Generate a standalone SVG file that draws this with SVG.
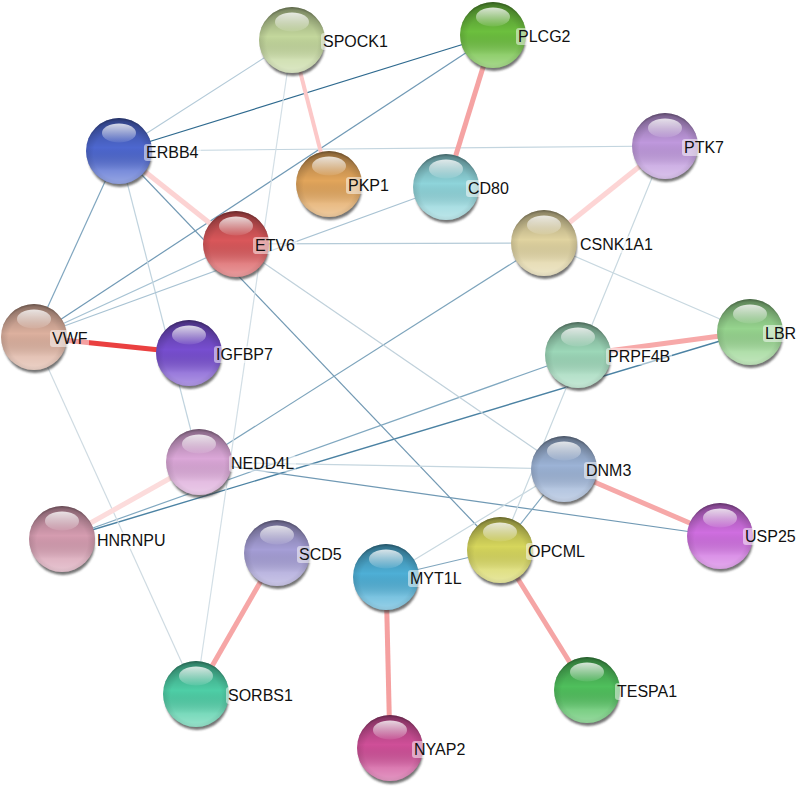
<svg xmlns="http://www.w3.org/2000/svg" width="798" height="790" viewBox="0 0 798 790">
<style>
text{font-family:"Liberation Sans",Arial,sans-serif;font-size:16px;fill:#111}
.sh{fill:#3a3a3a;opacity:.7;filter:url(#blur)}
.tone{fill:url(#tone)}
.rim{fill:url(#rim)}
.hl{fill:url(#hl)}
.lb{fill:#fff;opacity:.5}
#edges line{fill:none;stroke-linecap:butt}
.p{stroke-width:5}
.t{stroke-width:1.2}
</style>
<defs>
<filter id="blur" x="-20%" y="-20%" width="140%" height="140%"><feGaussianBlur stdDeviation="1.2"/></filter>
<linearGradient id="tone" x1="0" y1="0" x2="0" y2="1">
<stop offset="0" stop-color="#000" stop-opacity="0.3"/>
<stop offset="0.45" stop-color="#000" stop-opacity="0"/>
<stop offset="0.8" stop-color="#fff" stop-opacity="0.25"/>
<stop offset="1" stop-color="#fff" stop-opacity="0.42"/>
</linearGradient>
<radialGradient id="rim" cx="0.5" cy="0.55" r="0.55">
<stop offset="0.7" stop-color="#000" stop-opacity="0"/>
<stop offset="0.92" stop-color="#000" stop-opacity="0.12"/>
<stop offset="1" stop-color="#000" stop-opacity="0.35"/>
</radialGradient>
<linearGradient id="hl" x1="0" y1="0" x2="0" y2="1">
<stop offset="0" stop-color="#fff" stop-opacity="0.8"/>
<stop offset="1" stop-color="#fff" stop-opacity="0.08"/>
</linearGradient>
</defs>
<rect width="798" height="790" fill="#fff"/>
<g id="edges">
<line class="t" x1="119" y1="151" x2="493" y2="35" stroke="#2f6a8f" stroke-width="1.5"/>
<line class="t" x1="750" y1="332" x2="62" y2="539" stroke="#4b82a3" style="stroke-width:1.4"/>
<line class="t" x1="493" y1="35" x2="34" y2="337" stroke="#7099b5"/>
<line class="t" x1="119" y1="151" x2="34" y2="337" stroke="#80a6bf"/>
<line class="t" x1="119" y1="151" x2="500" y2="550" stroke="#7299b3"/>
<line class="t" x1="544" y1="243" x2="199" y2="462" stroke="#7da4bc"/>
<line class="t" x1="578" y1="355" x2="62" y2="539" stroke="#80a8c0"/>
<line class="t" x1="199" y1="462" x2="720" y2="536" stroke="#7099b4"/>
<line class="t" x1="386" y1="577" x2="500" y2="550" stroke="#80a6be"/>
<line class="t" x1="564" y1="469" x2="500" y2="550" stroke="#80a6be"/>
<line class="t" x1="34" y1="337" x2="236" y2="244" stroke="#a6c2d3"/>
<line class="t" x1="292" y1="40" x2="119" y2="151" stroke="#b3cad8"/>
<line class="t" x1="119" y1="151" x2="665" y2="146" stroke="#c3d5df"/>
<line class="t" x1="119" y1="151" x2="199" y2="462" stroke="#c0d3de"/>
<line class="t" x1="34" y1="337" x2="446" y2="187" stroke="#a9c3d3"/>
<line class="t" x1="236" y1="244" x2="544" y2="243" stroke="#b5cbd8"/>
<line class="t" x1="236" y1="244" x2="564" y2="469" stroke="#c0d1db"/>
<line class="t" x1="544" y1="243" x2="750" y2="332" stroke="#c8d8e0"/>
<line class="t" x1="665" y1="146" x2="500" y2="550" stroke="#c8d8e0"/>
<line class="t" x1="199" y1="462" x2="564" y2="469" stroke="#c5d6df"/>
<line class="t" x1="386" y1="577" x2="564" y2="469" stroke="#c8d8e0"/>
<line class="t" x1="292" y1="40" x2="196" y2="694" stroke="#d3dfe6"/>
<line class="t" x1="34" y1="337" x2="196" y2="694" stroke="#cfdbe2"/>
<line class="p" x1="292" y1="40" x2="329" y2="184" stroke="#fcc8c8" style="stroke-width:4"/>
<line class="p" x1="493" y1="35" x2="446" y2="187" stroke="#f5a3a3"/>
<line class="p" x1="119" y1="151" x2="236" y2="244" stroke="#fcd3d3"/>
<line class="p" x1="665" y1="146" x2="544" y2="243" stroke="#fdd5d5"/>
<line class="p" x1="34" y1="337" x2="189" y2="353" stroke="#ea4040"/>
<line class="p" x1="578" y1="355" x2="750" y2="332" stroke="#f7a9a9"/>
<line class="p" x1="199" y1="462" x2="62" y2="539" stroke="#fcdcdc"/>
<line class="p" x1="564" y1="469" x2="720" y2="536" stroke="#f6a8a8"/>
<line class="p" x1="500" y1="550" x2="587" y2="690" stroke="#f5a5a5"/>
<line class="p" x1="277" y1="553" x2="196" y2="694" stroke="#f6a6a6"/>
<line class="p" x1="386" y1="577" x2="390" y2="748" stroke="#f5a0a0"/>
</g>
<g id="node-SPOCK1"><circle class="sh" cx="293" cy="44" r="32"/><circle cx="292" cy="40" r="33" fill="#c3d79c"/><circle class="tone" cx="292" cy="40" r="33"/><circle class="rim" cx="292" cy="40" r="33"/><ellipse class="hl" cx="292" cy="22" rx="17" ry="9.5"/><rect class="lb" x="321" y="33" width="69" height="17" rx="3"/><text x="323" y="47">SPOCK1</text></g>
<g id="node-PLCG2"><circle class="sh" cx="494" cy="39" r="32"/><circle cx="493" cy="35" r="33" fill="#6cbf3e"/><circle class="tone" cx="493" cy="35" r="33"/><circle class="rim" cx="493" cy="35" r="33"/><ellipse class="hl" cx="493" cy="17" rx="17" ry="9.5"/><rect class="lb" x="516" y="28" width="57" height="17" rx="3"/><text x="518" y="42">PLCG2</text></g>
<g id="node-ERBB4"><circle class="sh" cx="120" cy="155" r="32"/><circle cx="119" cy="151" r="33" fill="#4d67cf"/><circle class="tone" cx="119" cy="151" r="33"/><circle class="rim" cx="119" cy="151" r="33"/><ellipse class="hl" cx="119" cy="133" rx="17" ry="9.5"/><rect class="lb" x="144" y="144" width="57" height="17" rx="3"/><text x="146" y="158">ERBB4</text></g>
<g id="node-PKP1"><circle class="sh" cx="330" cy="188" r="32"/><circle cx="329" cy="184" r="33" fill="#e2a55b"/><circle class="tone" cx="329" cy="184" r="33"/><circle class="rim" cx="329" cy="184" r="33"/><ellipse class="hl" cx="329" cy="166" rx="17" ry="9.5"/><rect class="lb" x="346" y="177" width="45" height="17" rx="3"/><text x="348" y="191">PKP1</text></g>
<g id="node-CD80"><circle class="sh" cx="447" cy="191" r="32"/><circle cx="446" cy="187" r="33" fill="#8ed4da"/><circle class="tone" cx="446" cy="187" r="33"/><circle class="rim" cx="446" cy="187" r="33"/><ellipse class="hl" cx="446" cy="169" rx="17" ry="9.5"/><rect class="lb" x="466" y="180" width="45" height="17" rx="3"/><text x="468" y="194">CD80</text></g>
<g id="node-PTK7"><circle class="sh" cx="666" cy="150" r="32"/><circle cx="665" cy="146" r="33" fill="#bf98dd"/><circle class="tone" cx="665" cy="146" r="33"/><circle class="rim" cx="665" cy="146" r="33"/><ellipse class="hl" cx="665" cy="128" rx="17" ry="9.5"/><rect class="lb" x="682" y="139" width="44" height="17" rx="3"/><text x="684" y="153">PTK7</text></g>
<g id="node-ETV6"><circle class="sh" cx="237" cy="248" r="32"/><circle cx="236" cy="244" r="33" fill="#d9575a"/><circle class="tone" cx="236" cy="244" r="33"/><circle class="rim" cx="236" cy="244" r="33"/><ellipse class="hl" cx="236" cy="226" rx="17" ry="9.5"/><rect class="lb" x="253" y="237" width="44" height="17" rx="3"/><text x="255" y="251">ETV6</text></g>
<g id="node-CSNK1A1"><circle class="sh" cx="545" cy="247" r="32"/><circle cx="544" cy="243" r="33" fill="#e0d3a0"/><circle class="tone" cx="544" cy="243" r="33"/><circle class="rim" cx="544" cy="243" r="33"/><ellipse class="hl" cx="544" cy="225" rx="17" ry="9.5"/><rect class="lb" x="578" y="236" width="77" height="17" rx="3"/><text x="580" y="250">CSNK1A1</text></g>
<g id="node-VWF"><circle class="sh" cx="35" cy="341" r="32"/><circle cx="34" cy="337" r="33" fill="#dcb09e"/><circle class="tone" cx="34" cy="337" r="33"/><circle class="rim" cx="34" cy="337" r="33"/><ellipse class="hl" cx="34" cy="319" rx="17" ry="9.5"/><rect class="lb" x="50" y="330" width="39" height="17" rx="3"/><text x="52" y="344">VWF</text></g>
<g id="node-IGFBP7"><circle class="sh" cx="190" cy="357" r="32"/><circle cx="189" cy="353" r="33" fill="#774ed0"/><circle class="tone" cx="189" cy="353" r="33"/><circle class="rim" cx="189" cy="353" r="33"/><ellipse class="hl" cx="189" cy="335" rx="17" ry="9.5"/><rect class="lb" x="214" y="346" width="61" height="17" rx="3"/><text x="216" y="360">IGFBP7</text></g>
<g id="node-LBR"><circle class="sh" cx="751" cy="336" r="32"/><circle cx="750" cy="332" r="33" fill="#96d48e"/><circle class="tone" cx="750" cy="332" r="33"/><circle class="rim" cx="750" cy="332" r="33"/><ellipse class="hl" cx="750" cy="314" rx="17" ry="9.5"/><rect class="lb" x="763" y="325" width="35" height="17" rx="3"/><text x="765" y="339">LBR</text></g>
<g id="node-PRPF4B"><circle class="sh" cx="579" cy="359" r="32"/><circle cx="578" cy="355" r="33" fill="#9cd7b8"/><circle class="tone" cx="578" cy="355" r="33"/><circle class="rim" cx="578" cy="355" r="33"/><ellipse class="hl" cx="578" cy="337" rx="17" ry="9.5"/><rect class="lb" x="606" y="348" width="66" height="17" rx="3"/><text x="608" y="362">PRPF4B</text></g>
<g id="node-NEDD4L"><circle class="sh" cx="200" cy="466" r="32"/><circle cx="199" cy="462" r="33" fill="#dba7d8"/><circle class="tone" cx="199" cy="462" r="33"/><circle class="rim" cx="199" cy="462" r="33"/><ellipse class="hl" cx="199" cy="444" rx="17" ry="9.5"/><rect class="lb" x="229" y="455" width="67" height="17" rx="3"/><text x="231" y="469">NEDD4L</text></g>
<g id="node-DNM3"><circle class="sh" cx="565" cy="473" r="32"/><circle cx="564" cy="469" r="33" fill="#9cb3d6"/><circle class="tone" cx="564" cy="469" r="33"/><circle class="rim" cx="564" cy="469" r="33"/><ellipse class="hl" cx="564" cy="451" rx="17" ry="9.5"/><rect class="lb" x="584" y="462" width="49" height="17" rx="3"/><text x="586" y="476">DNM3</text></g>
<g id="node-HNRNPU"><circle class="sh" cx="63" cy="543" r="32"/><circle cx="62" cy="539" r="33" fill="#d59cb0"/><circle class="tone" cx="62" cy="539" r="33"/><circle class="rim" cx="62" cy="539" r="33"/><ellipse class="hl" cx="62" cy="521" rx="17" ry="9.5"/><rect class="lb" x="95" y="532" width="72" height="17" rx="3"/><text x="97" y="546">HNRNPU</text></g>
<g id="node-SCD5"><circle class="sh" cx="278" cy="557" r="32"/><circle cx="277" cy="553" r="33" fill="#a59ed6"/><circle class="tone" cx="277" cy="553" r="33"/><circle class="rim" cx="277" cy="553" r="33"/><ellipse class="hl" cx="277" cy="535" rx="17" ry="9.5"/><rect class="lb" x="297" y="546" width="47" height="17" rx="3"/><text x="299" y="560">SCD5</text></g>
<g id="node-MYT1L"><circle class="sh" cx="387" cy="581" r="32"/><circle cx="386" cy="577" r="33" fill="#4eafd6"/><circle class="tone" cx="386" cy="577" r="33"/><circle class="rim" cx="386" cy="577" r="33"/><ellipse class="hl" cx="386" cy="559" rx="17" ry="9.5"/><rect class="lb" x="408" y="570" width="56" height="17" rx="3"/><text x="410" y="584">MYT1L</text></g>
<g id="node-OPCML"><circle class="sh" cx="501" cy="554" r="32"/><circle cx="500" cy="550" r="33" fill="#d6d65c"/><circle class="tone" cx="500" cy="550" r="33"/><circle class="rim" cx="500" cy="550" r="33"/><ellipse class="hl" cx="500" cy="532" rx="17" ry="9.5"/><rect class="lb" x="526" y="543" width="61" height="17" rx="3"/><text x="528" y="557">OPCML</text></g>
<g id="node-USP25"><circle class="sh" cx="721" cy="540" r="32"/><circle cx="720" cy="536" r="33" fill="#cf6ee0"/><circle class="tone" cx="720" cy="536" r="33"/><circle class="rim" cx="720" cy="536" r="33"/><ellipse class="hl" cx="720" cy="518" rx="17" ry="9.5"/><rect class="lb" x="743" y="528" width="55" height="17" rx="3"/><text x="745" y="542">USP25</text></g>
<g id="node-TESPA1"><circle class="sh" cx="588" cy="694" r="32"/><circle cx="587" cy="690" r="33" fill="#4fbf5c"/><circle class="tone" cx="587" cy="690" r="33"/><circle class="rim" cx="587" cy="690" r="33"/><ellipse class="hl" cx="587" cy="672" rx="17" ry="9.5"/><rect class="lb" x="615" y="683" width="65" height="17" rx="3"/><text x="617" y="697">TESPA1</text></g>
<g id="node-SORBS1"><circle class="sh" cx="197" cy="698" r="32"/><circle cx="196" cy="694" r="33" fill="#4ecea6"/><circle class="tone" cx="196" cy="694" r="33"/><circle class="rim" cx="196" cy="694" r="33"/><ellipse class="hl" cx="196" cy="676" rx="17" ry="9.5"/><rect class="lb" x="226" y="687" width="69" height="17" rx="3"/><text x="228" y="701">SORBS1</text></g>
<g id="node-NYAP2"><circle class="sh" cx="391" cy="752" r="32"/><circle cx="390" cy="748" r="33" fill="#cf4f98"/><circle class="tone" cx="390" cy="748" r="33"/><circle class="rim" cx="390" cy="748" r="33"/><ellipse class="hl" cx="390" cy="730" rx="17" ry="9.5"/><rect class="lb" x="412" y="741" width="57" height="17" rx="3"/><text x="414" y="755">NYAP2</text></g>
</svg>
